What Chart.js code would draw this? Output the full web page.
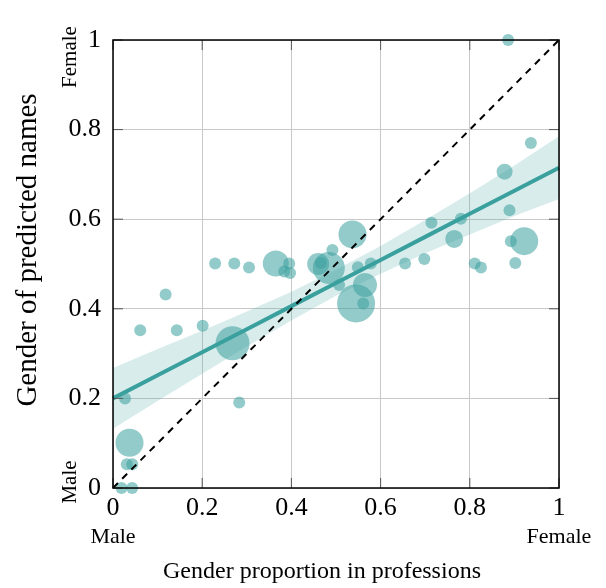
<!DOCTYPE html>
<html>
<head>
<meta charset="utf-8">
<script src="https://cdn.jsdelivr.net/npm/chart.js@4/dist/chart.umd.min.js"></script>
<style>
  body { margin: 0; background: #fff; }
  #wrap { width: 606px; height: 588px; }
</style>
</head>
<body>
<div id="wrap"><canvas id="chart_gender"></canvas></div>
<script>
// professions: share of women (x), predicted name gender (y), bubble size
let prof_x = [0.886, 0.937, 0.878, 0.889, 0.922, 0.892, 0.902, 0.811, 0.825, 0.78, 0.765, 0.714, 0.698, 0.655,
  0.578, 0.549, 0.565, 0.545, 0.561, 0.537, 0.492, 0.484, 0.46, 0.466, 0.507, 0.365, 0.395, 0.384, 0.397,
  0.229, 0.272, 0.305, 0.118, 0.061, 0.143, 0.201, 0.268, 0.283, 0.027, 0.037, 0.031, 0.043, 0.019, 0.043]
let prof_y = [1.0, 0.77, 0.706, 0.62, 0.551, 0.551, 0.502, 0.501, 0.492, 0.601, 0.556, 0.592, 0.511, 0.501,
  0.501, 0.493, 0.453, 0.412, 0.412, 0.566, 0.531, 0.491, 0.5, 0.502, 0.453, 0.501, 0.501, 0.483, 0.48,
  0.501, 0.501, 0.492, 0.432, 0.352, 0.352, 0.362, 0.323, 0.191, 0.2, 0.101, 0.053, 0.053, 0.0, 0.0]
let prof_size = [6, 6, 8, 6, 14, 6, 6, 6, 6, 6, 9, 6, 6, 6,
  6, 6, 12, 19, 6, 14, 6, 16, 11, 6, 6, 13, 6, 6, 6,
  6, 6, 6, 6, 6, 6, 6, 17, 6, 6, 14, 6, 6, 6, 6]

// regression fit and confidence band
let fit_x = [0, 0.1, 0.2, 0.3, 0.4, 0.5, 0.6, 0.7, 0.8, 0.9, 1]
let fit_y = [0.2, 0.2515, 0.303, 0.3545, 0.406, 0.4575, 0.509, 0.5605, 0.612, 0.6635, 0.715]
let band_hi = [0.268, 0.31, 0.351, 0.394, 0.438, 0.487, 0.54, 0.598, 0.658, 0.72, 0.785]
let band_lo = [0.132, 0.194, 0.255, 0.316, 0.374, 0.429, 0.478, 0.524, 0.566, 0.607, 0.645]

let tick_vals = [0, 0.2, 0.4, 0.6, 0.8, 1]

let points = prof_x.map((x, i) => ({ x: x, y: prof_y[i], r: prof_size[i] }))
let fitLine = fit_x.map((x, i) => ({ x: x, y: fit_y[i] }))
let hiLine = fit_x.map((x, i) => ({ x: x, y: band_hi[i] }))
let loLine = fit_x.map((x, i) => ({ x: x, y: band_lo[i] }))

const SERIF = "'Liberation Serif', 'DejaVu Serif', serif"
const TEAL = 'rgb(58, 160, 158)'

function fmt(v) {
  if (v === 0 || v === 1) return String(v)
  return v.toFixed(1)
}

function vtext(c, txt, x, y) {
  c.save()
  c.translate(x, y)
  c.rotate(-Math.PI / 2)
  c.fillText(txt, 0, 0)
  c.restore()
}

// inner tick marks, frame, axis titles and Male / Female end labels
const extras = {
  id: 'extras',
  afterDraw(chart) {
    let c = chart.ctx, a = chart.chartArea
    let xs = chart.scales.x, ys = chart.scales.y
    c.save()
    c.strokeStyle = '#555'
    c.lineWidth = 1
    tick_vals.forEach(v => {
      let px = xs.getPixelForValue(v), py = ys.getPixelForValue(v)
      c.beginPath()
      c.moveTo(px, a.bottom); c.lineTo(px, a.bottom - 10)
      c.moveTo(px, a.top); c.lineTo(px, a.top + 10)
      c.moveTo(a.left, py); c.lineTo(a.left + 10, py)
      c.moveTo(a.right, py); c.lineTo(a.right - 10, py)
      c.stroke()
    })
    c.strokeStyle = '#000'
    c.lineWidth = 1.5
    c.strokeRect(a.left, a.top, a.right - a.left, a.bottom - a.top)

    c.fillStyle = '#000'
    c.textAlign = 'center'
    c.textBaseline = 'middle'
    c.font = '22px ' + SERIF
    c.fillText('Male', xs.getPixelForValue(0), 537)
    c.fillText('Female', xs.getPixelForValue(1), 537)

    c.font = '21px ' + SERIF
    vtext(c, 'Female', 70, 57)
    vtext(c, 'Male', 70, 482)

    c.font = '24px ' + SERIF
    c.fillText('Gender proportion in professions', 322, 572)
    c.font = '29px ' + SERIF
    vtext(c, 'Gender of predicted names', 28, 250)
    c.restore()
  }
}

var ctx = document.getElementById('chart_gender').getContext('2d');
var myChart = new Chart(ctx, {
  type: 'bubble',
  data: {
    datasets: [
      {
        type: 'line',
        data: [{ x: 0, y: 0 }, { x: 1, y: 1 }],
        borderColor: '#000',
        borderWidth: 2,
        borderDash: [7, 6],
        pointRadius: 0,
        fill: false,
        order: 0
      },
      {
        type: 'line',
        data: fitLine,
        borderColor: TEAL,
        borderWidth: 4,
        pointRadius: 0,
        fill: false,
        order: 1
      },
      {
        data: points,
        backgroundColor: 'rgba(58, 160, 158, 0.55)',
        borderWidth: 0,
        order: 2
      },
      {
        type: 'line',
        data: loLine,
        borderWidth: 0,
        borderColor: 'rgba(0,0,0,0)',
        pointRadius: 0,
        fill: false,
        order: 4
      },
      {
        type: 'line',
        data: hiLine,
        borderWidth: 0,
        borderColor: 'rgba(0,0,0,0)',
        backgroundColor: 'rgba(58, 160, 158, 0.2)',
        pointRadius: 0,
        fill: '-1',
        order: 3
      }
    ]
  },
  options: {
    responsive: true,
    maintainAspectRatio: false,
    animation: false,
    clip: false,
    layout: { padding: { top: 40, right: 47, left: 0, bottom: 0 } },
    plugins: {
      legend: { display: false },
      tooltip: { enabled: false }
    },
    scales: {
      x: {
        type: 'linear',
        min: 0,
        max: 1,
        afterFit: scale => { scale.height = 100 },
        afterBuildTicks: scale => { scale.ticks = tick_vals.map(v => ({ value: v })) },
        grid: { color: '#c8c8c8', lineWidth: 1, drawTicks: false },
        border: { display: false },
        ticks: {
          padding: 5,
          color: '#000',
          font: { family: SERIF, size: 26 },
          maxRotation: 0,
          callback: v => fmt(v)
        }
      },
      y: {
        type: 'linear',
        min: 0,
        max: 1,
        afterFit: scale => { scale.width = 113 },
        afterBuildTicks: scale => { scale.ticks = tick_vals.map(v => ({ value: v })) },
        grid: { color: '#c8c8c8', lineWidth: 1, drawTicks: false },
        border: { display: false },
        ticks: {
          padding: 12,
          color: '#000',
          font: { family: SERIF, size: 26 },
          callback: v => fmt(v)
        }
      }
    }
  },
  plugins: [extras]
});
</script>
</body>
</html>
